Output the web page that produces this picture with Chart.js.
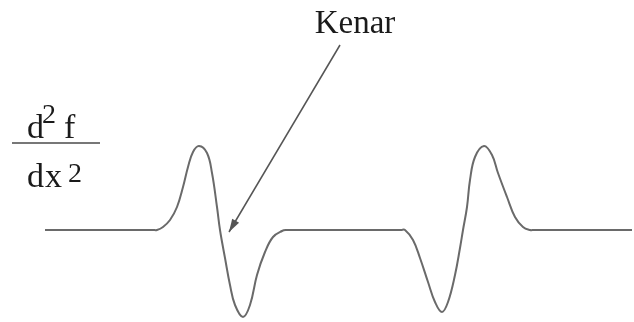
<!DOCTYPE html>
<html>
<head>
<meta charset="utf-8">
<script src="https://cdn.jsdelivr.net/npm/chart.js@4.4.1/dist/chart.umd.min.js"></script>
<style>
  html, body { margin: 0; padding: 0; background: #fff; }
  #wrap { width: 634px; height: 322px; }
</style>
</head>
<body>
<div id="wrap"><canvas id="grafico"></canvas></div>
<script>
// second derivative profile: x position and value (0 = flat baseline)
const curvaX = [45, 100, 153, 157, 163, 170, 177, 183, 188, 193, 199, 207, 212, 217, 220,
                225, 230, 235, 243, 250, 257, 265, 273, 282, 287, 291, 346, 401,
                405, 413, 420, 428, 435, 442, 448, 455, 460, 463,
                467, 470, 475, 484, 492, 498, 507, 515, 523, 530, 534, 585, 632];
const curvaY = [0, 0, 0, 0, 3, 10, 23, 43, 63, 78, 84, 77, 57, 23, 0,
                -28, -55, -75, -87, -75, -45, -22, -7, -1, 0, 0, 0, 0,
                0, -10, -28, -52, -72, -82, -72, -45, -18, 0,
                23, 50, 73, 84, 75, 57, 33, 13, 3, 0, 0, 0, 0];

// pointer from the label to the edge (zero crossing)
const flechaX = [340, 229];
const flechaY = [185, -2];

const etiqueta = "Kenar";
const etiquetaPos = [355, 197];

const fontSerif = "'Liberation Serif', 'DejaVu Serif', serif";

const puntos = curvaX.map((x, i) => ({ x: x, y: curvaY[i] }));
const flecha = flechaX.map((x, i) => ({ x: x, y: flechaY[i] }));

// arrow head + text labels
const anotaciones = {
  id: "anotaciones",
  afterDatasetsDraw(chart) {
    const ctx = chart.ctx;
    const sx = chart.scales.x, sy = chart.scales.y;

    // arrow head at the end of the pointer
    const x0 = sx.getPixelForValue(flechaX[0]), y0 = sy.getPixelForValue(flechaY[0]);
    const x1 = sx.getPixelForValue(flechaX[1]), y1 = sy.getPixelForValue(flechaY[1]);
    const ang = Math.atan2(y1 - y0, x1 - x0);
    const largo = 13, ancho = 4;
    ctx.save();
    ctx.fillStyle = "#555";
    ctx.beginPath();
    ctx.moveTo(x1, y1);
    ctx.lineTo(x1 - largo * Math.cos(ang) + ancho * Math.sin(ang),
               y1 - largo * Math.sin(ang) - ancho * Math.cos(ang));
    ctx.lineTo(x1 - largo * Math.cos(ang) - ancho * Math.sin(ang),
               y1 - largo * Math.sin(ang) + ancho * Math.cos(ang));
    ctx.closePath();
    ctx.fill();

    // "Kenar"
    ctx.fillStyle = "#1a1a1a";
    ctx.textAlign = "center";
    ctx.textBaseline = "alphabetic";
    ctx.font = "33px " + fontSerif;
    ctx.fillText(etiqueta, sx.getPixelForValue(etiquetaPos[0]), sy.getPixelForValue(etiquetaPos[1]));

    // d2f / dx2 axis label
    ctx.textAlign = "left";
    ctx.font = "34px " + fontSerif;
    ctx.fillText("d", 27, 138);
    ctx.fillText("f", 64, 138);
    ctx.fillText("d", 27, 187);
    ctx.fillText("x", 45, 187);
    ctx.font = "28px " + fontSerif;
    ctx.fillText("2", 42, 123);
    ctx.fillText("2", 68, 182);

    ctx.strokeStyle = "#777";
    ctx.lineWidth = 2;
    ctx.beginPath();
    ctx.moveTo(12, 143);
    ctx.lineTo(100, 143);
    ctx.stroke();
    ctx.restore();
  }
};

new Chart(document.getElementById("grafico"), {
  type: "line",
  data: {
    datasets: [
      {
        data: puntos,
        borderColor: "#6a6a6a",
        borderWidth: 2,
        pointRadius: 0,
        tension: 0.4,
        fill: false
      },
      {
        data: flecha,
        borderColor: "#555",
        borderWidth: 1.5,
        pointRadius: 0,
        tension: 0,
        fill: false
      }
    ]
  },
  options: {
    responsive: true,
    maintainAspectRatio: false,
    animation: false,
    layout: { padding: 0 },
    plugins: { legend: { display: false }, tooltip: { enabled: false } },
    scales: {
      x: { type: "linear", min: 0, max: 634, display: false },
      y: { type: "linear", min: -92, max: 230, display: false }
    }
  },
  plugins: [anotaciones]
});
</script>
</body>
</html>
